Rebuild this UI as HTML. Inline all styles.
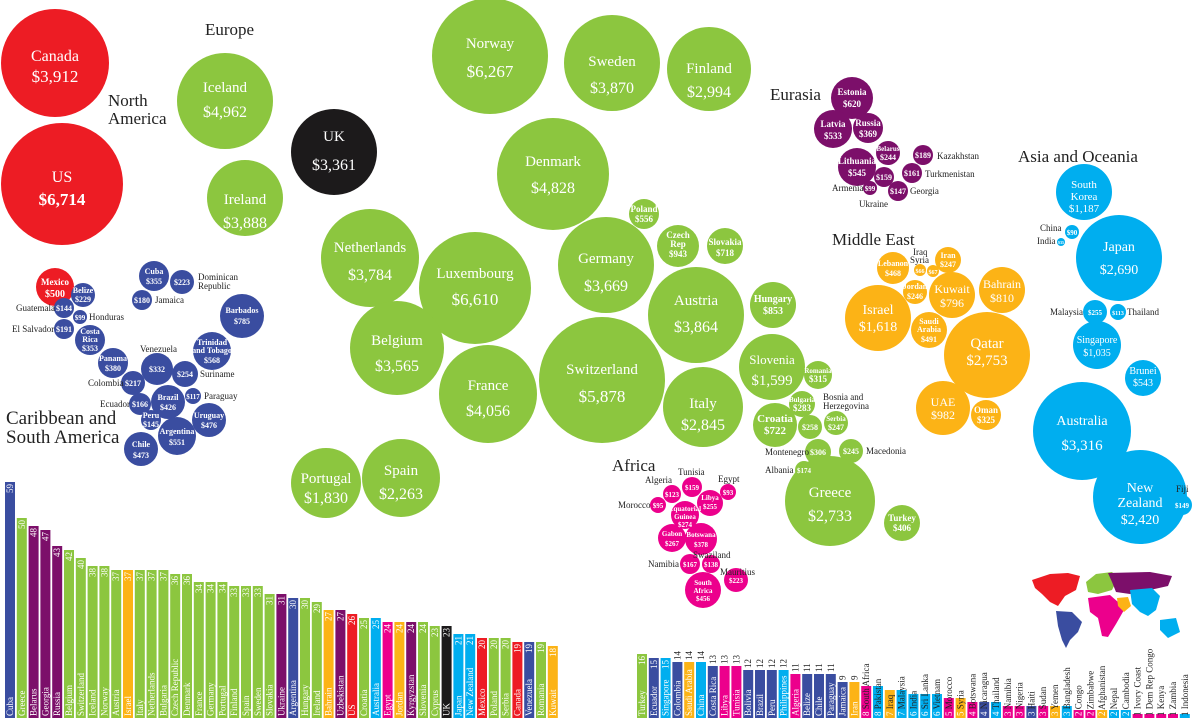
<!DOCTYPE html>
<html><head><meta charset="utf-8"><style>
html,body{margin:0;padding:0;background:#fff}
svg{display:block}
text{font-family:"Liberation Serif",serif}
.w{fill:#fff;text-anchor:middle}
.b{font-weight:bold}
.k{fill:#222;font-size:9px}
.h{fill:#222;font-size:17px}
.bl text{font-size:9px;fill:#fff}
.bl text.d{fill:#222}
.bl tspan.wt{fill:#fff}
</style></head><body>
<svg width="1200" height="720" viewBox="0 0 1200 720" xmlns="http://www.w3.org/2000/svg">
<text class="h" x="205" y="35">Europe</text>
<text class="h" x="108" y="106">North</text>
<text class="h" x="108" y="124">America</text>
<text class="h" x="6" y="424" style="font-size:19px">Caribbean and</text>
<text class="h" x="6" y="443" style="font-size:19px">South America</text>
<text class="h" x="770" y="100">Eurasia</text>
<text class="h" x="832" y="245">Middle East</text>
<text class="h" x="1018" y="162">Asia and Oceania</text>
<text class="h" x="612" y="471">Africa</text>

<g fill="#ed1c24">
<circle cx="55" cy="63" r="54"/><circle cx="62" cy="184" r="61"/><circle cx="55" cy="287" r="19"/>
</g>
<text class="w" x="55" y="61" font-size="16">Canada</text><text class="w" x="55" y="82" font-size="17">$3,912</text>
<text class="w" x="62" y="182" font-size="16">US</text><text class="w" x="62" y="205" font-size="17" font-weight="bold">$6,714</text>
<text class="w b" x="55" y="285" font-size="9">Mexico</text><text class="w b" x="55" y="297" font-size="10">$500</text>

<g fill="#3a4da0">
<circle cx="83" cy="295" r="12"/><circle cx="64" cy="308" r="10"/><circle cx="80" cy="317" r="7"/>
<circle cx="64" cy="329" r="10"/><circle cx="90" cy="340" r="15"/><circle cx="113" cy="363" r="15"/>
<circle cx="133" cy="383" r="12"/><circle cx="157" cy="369" r="16"/><circle cx="185" cy="374" r="13"/>
<circle cx="140" cy="404" r="11"/><circle cx="168" cy="402" r="17"/><circle cx="193" cy="396" r="8"/>
<circle cx="151" cy="420" r="10"/><circle cx="209" cy="420" r="17"/><circle cx="177" cy="436" r="19"/>
<circle cx="141" cy="449" r="17"/><circle cx="154" cy="276" r="15"/><circle cx="182" cy="282" r="12"/>
<circle cx="142" cy="300" r="10"/><circle cx="242" cy="316" r="22"/><circle cx="212" cy="351" r="19"/>
</g>
<g class="b" font-size="8">
<text class="w" x="83" y="293">Belize</text><text class="w" x="83" y="302">$229</text>
<text class="w" x="64" y="311">$144</text><text class="w" x="80" y="320" font-size="7">$99</text>
<text class="w" x="64" y="332">$191</text>
<text class="w" x="90" y="334">Costa</text><text class="w" x="90" y="342">Rica</text><text class="w" x="90" y="351">$353</text>
<text class="w" x="113" y="361">Panama</text><text class="w" x="113" y="371">$380</text>
<text class="w" x="133" y="386">$217</text><text class="w" x="157" y="372">$332</text><text class="w" x="185" y="377">$254</text>
<text class="w" x="140" y="407">$166</text>
<text class="w" x="168" y="400">Brazil</text><text class="w" x="168" y="410">$426</text>
<text class="w" x="193" y="399" font-size="7">$117</text>
<text class="w" x="151" y="418">Peru</text><text class="w" x="151" y="427">$145</text>
<text class="w" x="209" y="418">Uruguay</text><text class="w" x="209" y="428">$476</text>
<text class="w" x="177" y="434">Argentina</text><text class="w" x="177" y="445">$551</text>
<text class="w" x="141" y="447">Chile</text><text class="w" x="141" y="458">$473</text>
<text class="w" x="154" y="274">Cuba</text><text class="w" x="154" y="284">$355</text>
<text class="w" x="182" y="285">$223</text><text class="w" x="142" y="303">$180</text>
<text class="w" x="242" y="313">Barbados</text><text class="w" x="242" y="324">$785</text>
<text class="w" x="212" y="345">Trinidad</text><text class="w" x="212" y="353">and Tobago</text><text class="w" x="212" y="363">$568</text>
</g>
<text class="k" x="198" y="280">Dominican</text><text class="k" x="198" y="289">Republic</text>
<text class="k" x="155" y="303">Jamaica</text>
<text class="k" x="16" y="311">Guatemala</text><text class="k" x="89" y="320">Honduras</text>
<text class="k" x="12" y="332">El Salvador</text><text class="k" x="140" y="352">Venezuela</text>
<text class="k" x="88" y="386">Colombia</text><text class="k" x="200" y="377">Suriname</text>
<text class="k" x="100" y="407">Ecuador</text><text class="k" x="204" y="399">Paraguay</text>

<g fill="#8cc63f">
<circle cx="225" cy="101" r="48"/><circle cx="245" cy="198" r="38"/>
<circle cx="490" cy="56" r="58"/><circle cx="612" cy="63" r="48"/><circle cx="709" cy="69" r="42"/>
<circle cx="553" cy="174" r="56"/><circle cx="370" cy="258" r="49"/><circle cx="475" cy="288" r="56"/>
<circle cx="606" cy="265" r="48"/><circle cx="644" cy="214" r="15"/><circle cx="678" cy="246" r="21"/>
<circle cx="725" cy="246" r="18"/><circle cx="696" cy="315" r="48"/><circle cx="773" cy="305" r="23"/>
<circle cx="397" cy="348" r="47"/><circle cx="488" cy="394" r="49"/><circle cx="602" cy="380" r="63"/>
<circle cx="703" cy="407" r="40"/><circle cx="772" cy="367" r="33"/><circle cx="818" cy="375" r="14"/>
<circle cx="802" cy="404" r="13"/><circle cx="775" cy="425" r="22"/><circle cx="810" cy="427" r="12"/>
<circle cx="836" cy="423" r="12"/><circle cx="818" cy="452" r="13"/><circle cx="851" cy="451" r="12"/>
<circle cx="804" cy="470" r="9"/><circle cx="830" cy="501" r="45"/><circle cx="902" cy="523" r="18"/>
<circle cx="326" cy="483" r="35"/><circle cx="401" cy="478" r="39"/>
</g>
<circle cx="334" cy="152" r="43" fill="#1c1a1b"/>
<g font-size="15">
<text class="w" x="225" y="92">Iceland</text><text class="w" x="225" y="117" font-size="16">$4,962</text>
<text class="w" x="245" y="204">Ireland</text><text class="w" x="245" y="228" font-size="16">$3,888</text>
<text class="w" x="334" y="141">UK</text><text class="w" x="334" y="170" font-size="16">$3,361</text>
<text class="w" x="490" y="48">Norway</text><text class="w" x="490" y="77" font-size="17">$6,267</text>
<text class="w" x="612" y="66">Sweden</text><text class="w" x="612" y="93" font-size="16">$3,870</text>
<text class="w" x="709" y="73">Finland</text><text class="w" x="709" y="97" font-size="16">$2,994</text>
<text class="w" x="553" y="166">Denmark</text><text class="w" x="553" y="193" font-size="16">$4,828</text>
<text class="w" x="370" y="252">Netherlands</text><text class="w" x="370" y="280" font-size="16">$3,784</text>
<text class="w" x="475" y="278">Luxembourg</text><text class="w" x="475" y="305" font-size="17">$6,610</text>
<text class="w" x="606" y="263">Germany</text><text class="w" x="606" y="291" font-size="16">$3,669</text>
<text class="w" x="696" y="305">Austria</text><text class="w" x="696" y="332" font-size="16">$3,864</text>
<text class="w" x="397" y="345">Belgium</text><text class="w" x="397" y="371" font-size="16">$3,565</text>
<text class="w" x="488" y="390">France</text><text class="w" x="488" y="416" font-size="16">$4,056</text>
<text class="w" x="602" y="374">Switzerland</text><text class="w" x="602" y="402" font-size="17">$5,878</text>
<text class="w" x="703" y="408">Italy</text><text class="w" x="703" y="430" font-size="16">$2,845</text>
<text class="w" x="772" y="364" font-size="13">Slovenia</text><text class="w" x="772" y="385">$1,599</text>
<text class="w" x="830" y="497">Greece</text><text class="w" x="830" y="521" font-size="16">$2,733</text>
<text class="w" x="326" y="483">Portugal</text><text class="w" x="326" y="503" font-size="16">$1,830</text>
<text class="w" x="401" y="475">Spain</text><text class="w" x="401" y="499" font-size="16">$2,263</text>
</g>
<g class="b" font-size="9">
<text class="w" x="644" y="212">Poland</text><text class="w" x="644" y="222">$556</text>
<text class="w" x="678" y="238">Czech</text><text class="w" x="678" y="247">Rep</text><text class="w" x="678" y="257">$943</text>
<text class="w" x="725" y="245">Slovakia</text><text class="w" x="725" y="256">$718</text>
<text class="w" x="773" y="302" font-size="10">Hungary</text><text class="w" x="773" y="314" font-size="10">$853</text>
<text class="w" x="818" y="373" font-size="7">Romania</text><text class="w" x="818" y="382">$315</text>
<text class="w" x="802" y="402" font-size="7">Bulgaria</text><text class="w" x="802" y="411">$283</text>
<text class="w" x="775" y="422" font-size="11">Croatia</text><text class="w" x="775" y="434" font-size="11">$722</text>
<text class="w" x="810" y="430" font-size="8">$258</text>
<text class="w" x="836" y="421" font-size="7">Serbia</text><text class="w" x="836" y="430" font-size="8">$247</text>
<text class="w" x="818" y="455" font-size="8">$306</text><text class="w" x="851" y="454" font-size="8">$245</text>
<text class="w" x="804" y="473" font-size="7">$174</text>
<text class="w" x="902" y="521">Turkey</text><text class="w" x="902" y="531">$406</text>
</g>
<text class="k" x="823" y="400">Bosnia and</text><text class="k" x="823" y="409">Herzegovina</text>
<text class="k" x="765" y="455">Montenegro</text><text class="k" x="866" y="454">Macedonia</text>
<text class="k" x="765" y="473">Albania</text>

<g fill="#7c0f6a">
<circle cx="852" cy="98" r="21"/><circle cx="833" cy="129" r="19"/><circle cx="868" cy="128" r="15"/>
<circle cx="888" cy="153" r="12"/><circle cx="857" cy="167" r="19"/><circle cx="884" cy="177" r="10"/>
<circle cx="870" cy="188" r="7"/><circle cx="898" cy="191" r="10"/><circle cx="912" cy="173" r="10"/><circle cx="923" cy="155" r="10"/>
</g>
<g class="b" font-size="9">
<text class="w" x="852" y="95">Estonia</text><text class="w" x="852" y="107">$620</text>
<text class="w" x="833" y="127">Latvia</text><text class="w" x="833" y="139">$533</text>
<text class="w" x="868" y="126">Russia</text><text class="w" x="868" y="137">$369</text>
<text class="w" x="888" y="151" font-size="7">Belarus</text><text class="w" x="888" y="160" font-size="8">$244</text>
<text class="w" x="857" y="164">Lithuania</text><text class="w" x="857" y="176">$545</text>
<text class="w" x="884" y="180" font-size="8">$159</text><text class="w" x="870" y="191" font-size="7">$99</text>
<text class="w" x="898" y="194" font-size="8">$147</text><text class="w" x="912" y="176" font-size="8">$161</text>
<text class="w" x="923" y="158" font-size="8">$189</text>
</g>
<text class="k" x="937" y="159" font-size="8">Kazakhstan</text><text class="k" x="925" y="177" font-size="8">Turkmenistan</text>
<text class="k" x="910" y="194" font-size="8">Georgia</text><text class="k" x="832" y="191" font-size="8">Armenia</text>
<text class="k" x="859" y="207" font-size="8">Ukraine</text>

<g fill="#fcb316">
<circle cx="893" cy="268" r="16"/><circle cx="920" cy="270" r="6"/><circle cx="933" cy="271" r="6"/>
<circle cx="948" cy="260" r="13"/><circle cx="915" cy="292" r="12"/><circle cx="952" cy="295" r="23"/>
<circle cx="1002" cy="290" r="23"/><circle cx="878" cy="318" r="33"/><circle cx="929" cy="330" r="18"/>
<circle cx="987" cy="355" r="43"/><circle cx="943" cy="408" r="27"/><circle cx="986" cy="415" r="15"/>
</g>
<g class="b" font-size="8">
<text class="w" x="893" y="266">Lebanon</text><text class="w" x="893" y="276">$468</text>
<text class="w" x="948" y="258">Iran</text><text class="w" x="948" y="267">$247</text>
<text class="w" x="920" y="273" font-size="6">$66</text><text class="w" x="933" y="274" font-size="6">$67</text>
<text class="w" x="915" y="289">Jordan</text><text class="w" x="915" y="299">$246</text>
<text class="w" x="929" y="324">Saudi</text><text class="w" x="929" y="332">Arabia</text><text class="w" x="929" y="342">$491</text>
<text class="w" x="986" y="413" font-size="9">Oman</text><text class="w" x="986" y="423" font-size="9">$325</text>
</g>
<g font-size="12">
<text class="w" x="952" y="293">Kuwait</text><text class="w" x="952" y="307">$796</text>
<text class="w" x="1002" y="288">Bahrain</text><text class="w" x="1002" y="302">$810</text>
<text class="w" x="878" y="314" font-size="14">Israel</text><text class="w" x="878" y="331" font-size="14">$1,618</text>
<text class="w" x="987" y="348" font-size="15">Qatar</text><text class="w" x="987" y="365" font-size="15">$2,753</text>
<text class="w" x="943" y="406">UAE</text><text class="w" x="943" y="419">$982</text>
</g>
<text class="k" x="913" y="255" font-size="8">Iraq</text><text class="k" x="910" y="263" font-size="8">Syria</text>

<g fill="#ec008c">
<circle cx="672" cy="494" r="9"/><circle cx="692" cy="487" r="10"/><circle cx="728" cy="492" r="8"/>
<circle cx="658" cy="505" r="8"/><circle cx="710" cy="503" r="13"/><circle cx="685" cy="515" r="14"/>
<circle cx="672" cy="538" r="14"/><circle cx="701" cy="539" r="16"/><circle cx="690" cy="564" r="10"/>
<circle cx="711" cy="564" r="9"/><circle cx="736" cy="580" r="12"/><circle cx="703" cy="590" r="18"/>
</g>
<g class="b" font-size="7">
<text class="w" x="672" y="497">$123</text><text class="w" x="692" y="490">$159</text><text class="w" x="728" y="495">$93</text>
<text class="w" x="658" y="508">$95</text><text class="w" x="710" y="500">Libya</text><text class="w" x="710" y="509">$255</text>
<text class="w" x="685" y="511">Equatorial</text><text class="w" x="685" y="519">Guinea</text><text class="w" x="685" y="527">$274</text>
<text class="w" x="672" y="536">Gabon</text><text class="w" x="672" y="546">$267</text>
<text class="w" x="701" y="537">Botswana</text><text class="w" x="701" y="547">$378</text>
<text class="w" x="690" y="567">$167</text><text class="w" x="711" y="567">$138</text>
<text class="w" x="736" y="583">$223</text>
<text class="w" x="703" y="585">South</text><text class="w" x="703" y="593">Africa</text><text class="w" x="703" y="601">$456</text>
</g>
<text class="k" x="645" y="483" font-size="8">Algeria</text><text class="k" x="678" y="475" font-size="8">Tunisia</text>
<text class="k" x="718" y="482" font-size="8">Egypt</text><text class="k" x="618" y="508" font-size="8">Morocco</text>
<text class="k" x="648" y="567" font-size="8">Namibia</text><text class="k" x="693" y="558" font-size="8">Swaziland</text>
<text class="k" x="720" y="575" font-size="8">Mauritius</text>

<g fill="#00aeef">
<circle cx="1084" cy="192" r="28"/><circle cx="1072" cy="232" r="7"/><circle cx="1061" cy="242" r="4"/>
<circle cx="1119" cy="258" r="43"/><circle cx="1095" cy="312" r="12"/><circle cx="1118" cy="312" r="8"/>
<circle cx="1097" cy="345" r="24"/><circle cx="1143" cy="378" r="18"/><circle cx="1082" cy="431" r="49"/>
<circle cx="1140" cy="497" r="47"/><circle cx="1182" cy="505" r="10"/>
</g>
<text class="w" x="1084" y="188" font-size="11">South</text><text class="w" x="1084" y="200" font-size="11">Korea</text><text class="w" x="1084" y="212" font-size="11">$1,187</text>
<text class="w" x="1119" y="251" font-size="14">Japan</text><text class="w" x="1119" y="274" font-size="14">$2,690</text>
<text class="w" x="1097" y="343" font-size="10">Singapore</text><text class="w" x="1097" y="356" font-size="10">$1,035</text>
<text class="w" x="1143" y="374" font-size="10">Brunei</text><text class="w" x="1143" y="386" font-size="10">$543</text>
<text class="w" x="1082" y="425" font-size="14">Australia</text><text class="w" x="1082" y="450" font-size="15">$3,316</text>
<text class="w" x="1140" y="492" font-size="14">New</text><text class="w" x="1140" y="507" font-size="14">Zealand</text><text class="w" x="1140" y="524" font-size="14">$2,420</text>
<g class="b" font-size="7">
<text class="w" x="1072" y="235">$90</text><text class="w" x="1061" y="244" font-size="4">$35</text>
<text class="w" x="1095" y="315">$255</text><text class="w" x="1118" y="315" font-size="6">$113</text>
<text class="w" x="1182" y="508">$149</text>
</g>
<text class="k" x="1040" y="231" font-size="8">China</text><text class="k" x="1037" y="244" font-size="8">India</text>
<text class="k" x="1050" y="315" font-size="8">Malaysia</text><text class="k" x="1127" y="315" font-size="8">Thailand</text>
<text class="k" x="1176" y="492" font-size="8">Fiji</text>

<path d="M1032,580 L1050,574 L1068,573 L1080,576 L1076,590 L1065,596 L1058,606 L1050,602 L1042,594 L1035,588 Z" fill="#ed1c24"/>
<path d="M1056,611 L1072,612 L1082,622 L1078,632 L1070,640 L1066,648 L1062,640 L1058,626 Z" fill="#3a4da0"/>
<path d="M1086,582 L1096,574 L1112,572 L1118,578 L1112,590 L1098,594 L1088,592 Z" fill="#8cc63f"/>
<path d="M1088,598 L1110,595 L1118,602 L1124,610 L1116,624 L1108,637 L1102,636 L1098,618 L1090,612 Z" fill="#ec008c"/>
<path d="M1108,573 L1150,572 L1172,576 L1168,586 L1150,590 L1130,594 L1116,592 L1112,582 Z" fill="#7c0f6a"/>
<path d="M1117,598 L1128,597 L1131,606 L1124,612 L1118,606 Z" fill="#fcb316"/>
<path d="M1130,590 L1152,588 L1160,596 L1156,610 L1148,616 L1140,612 L1132,604 Z M1160,620 L1176,618 L1180,632 L1168,638 L1160,630 Z" fill="#00aeef"/>

<g class="bl">
<g transform="translate(5,0)"><rect y="482" width="10" height="236" fill="#3a4da0"/><text transform="rotate(-90 8 716)" x="8" y="716">Cuba</text><text transform="rotate(-90 8 484)" x="8" y="484" text-anchor="end">59</text></g>
<g transform="translate(16.8,0)"><rect y="518" width="10" height="200" fill="#8cc63f"/><text transform="rotate(-90 8 716)" x="8" y="716">Greece</text><text transform="rotate(-90 8 520)" x="8" y="520" text-anchor="end">50</text></g>
<g transform="translate(28.6,0)"><rect y="526" width="10" height="192" fill="#7c0f6a"/><text transform="rotate(-90 8 716)" x="8" y="716">Belarus</text><text transform="rotate(-90 8 528)" x="8" y="528" text-anchor="end">48</text></g>
<g transform="translate(40.4,0)"><rect y="530" width="10" height="188" fill="#7c0f6a"/><text transform="rotate(-90 8 716)" x="8" y="716">Georgia</text><text transform="rotate(-90 8 532)" x="8" y="532" text-anchor="end">47</text></g>
<g transform="translate(52.2,0)"><rect y="546" width="10" height="172" fill="#7c0f6a"/><text transform="rotate(-90 8 716)" x="8" y="716">Russia</text><text transform="rotate(-90 8 548)" x="8" y="548" text-anchor="end">43</text></g>
<g transform="translate(64,0)"><rect y="550" width="10" height="168" fill="#8cc63f"/><text transform="rotate(-90 8 716)" x="8" y="716">Belgium</text><text transform="rotate(-90 8 552)" x="8" y="552" text-anchor="end">42</text></g>
<g transform="translate(75.8,0)"><rect y="558" width="10" height="160" fill="#8cc63f"/><text transform="rotate(-90 8 716)" x="8" y="716">Switzerland</text><text transform="rotate(-90 8 560)" x="8" y="560" text-anchor="end">40</text></g>
<g transform="translate(87.6,0)"><rect y="566" width="10" height="152" fill="#8cc63f"/><text transform="rotate(-90 8 716)" x="8" y="716">Iceland</text><text transform="rotate(-90 8 568)" x="8" y="568" text-anchor="end">38</text></g>
<g transform="translate(99.4,0)"><rect y="566" width="10" height="152" fill="#8cc63f"/><text transform="rotate(-90 8 716)" x="8" y="716">Norway</text><text transform="rotate(-90 8 568)" x="8" y="568" text-anchor="end">38</text></g>
<g transform="translate(111.2,0)"><rect y="570" width="10" height="148" fill="#8cc63f"/><text transform="rotate(-90 8 716)" x="8" y="716">Austria</text><text transform="rotate(-90 8 572)" x="8" y="572" text-anchor="end">37</text></g>
<g transform="translate(123,0)"><rect y="570" width="10" height="148" fill="#fcb316"/><text transform="rotate(-90 8 716)" x="8" y="716">Israel</text><text transform="rotate(-90 8 572)" x="8" y="572" text-anchor="end">37</text></g>
<g transform="translate(134.8,0)"><rect y="570" width="10" height="148" fill="#8cc63f"/><text transform="rotate(-90 8 716)" x="8" y="716">Italy</text><text transform="rotate(-90 8 572)" x="8" y="572" text-anchor="end">37</text></g>
<g transform="translate(146.6,0)"><rect y="570" width="10" height="148" fill="#8cc63f"/><text transform="rotate(-90 8 716)" x="8" y="716">Netherlands</text><text transform="rotate(-90 8 572)" x="8" y="572" text-anchor="end">37</text></g>
<g transform="translate(158.4,0)"><rect y="570" width="10" height="148" fill="#8cc63f"/><text transform="rotate(-90 8 716)" x="8" y="716">Bulgaria</text><text transform="rotate(-90 8 572)" x="8" y="572" text-anchor="end">37</text></g>
<g transform="translate(170.2,0)"><rect y="574" width="10" height="144" fill="#8cc63f"/><text transform="rotate(-90 8 716)" x="8" y="716">Czech Republic</text><text transform="rotate(-90 8 576)" x="8" y="576" text-anchor="end">36</text></g>
<g transform="translate(182,0)"><rect y="574" width="10" height="144" fill="#8cc63f"/><text transform="rotate(-90 8 716)" x="8" y="716">Denmark</text><text transform="rotate(-90 8 576)" x="8" y="576" text-anchor="end">36</text></g>
<g transform="translate(193.8,0)"><rect y="582" width="10" height="136" fill="#8cc63f"/><text transform="rotate(-90 8 716)" x="8" y="716">France</text><text transform="rotate(-90 8 584)" x="8" y="584" text-anchor="end">34</text></g>
<g transform="translate(205.6,0)"><rect y="582" width="10" height="136" fill="#8cc63f"/><text transform="rotate(-90 8 716)" x="8" y="716">Germany</text><text transform="rotate(-90 8 584)" x="8" y="584" text-anchor="end">34</text></g>
<g transform="translate(217.4,0)"><rect y="582" width="10" height="136" fill="#8cc63f"/><text transform="rotate(-90 8 716)" x="8" y="716">Portugal</text><text transform="rotate(-90 8 584)" x="8" y="584" text-anchor="end">34</text></g>
<g transform="translate(229.2,0)"><rect y="586" width="10" height="132" fill="#8cc63f"/><text transform="rotate(-90 8 716)" x="8" y="716">Finland</text><text transform="rotate(-90 8 588)" x="8" y="588" text-anchor="end">33</text></g>
<g transform="translate(241,0)"><rect y="586" width="10" height="132" fill="#8cc63f"/><text transform="rotate(-90 8 716)" x="8" y="716">Spain</text><text transform="rotate(-90 8 588)" x="8" y="588" text-anchor="end">33</text></g>
<g transform="translate(252.8,0)"><rect y="586" width="10" height="132" fill="#8cc63f"/><text transform="rotate(-90 8 716)" x="8" y="716">Sweden</text><text transform="rotate(-90 8 588)" x="8" y="588" text-anchor="end">33</text></g>
<g transform="translate(264.6,0)"><rect y="594" width="10" height="124" fill="#8cc63f"/><text transform="rotate(-90 8 716)" x="8" y="716">Slovakia</text><text transform="rotate(-90 8 596)" x="8" y="596" text-anchor="end">31</text></g>
<g transform="translate(276.4,0)"><rect y="594" width="10" height="124" fill="#7c0f6a"/><text transform="rotate(-90 8 716)" x="8" y="716">Ukraine</text><text transform="rotate(-90 8 596)" x="8" y="596" text-anchor="end">31</text></g>
<g transform="translate(288.2,0)"><rect y="598" width="10" height="120" fill="#3a4da0"/><text transform="rotate(-90 8 716)" x="8" y="716">Argentina</text><text transform="rotate(-90 8 600)" x="8" y="600" text-anchor="end">30</text></g>
<g transform="translate(300,0)"><rect y="598" width="10" height="120" fill="#8cc63f"/><text transform="rotate(-90 8 716)" x="8" y="716">Hungary</text><text transform="rotate(-90 8 600)" x="8" y="600" text-anchor="end">30</text></g>
<g transform="translate(311.8,0)"><rect y="602" width="10" height="116" fill="#8cc63f"/><text transform="rotate(-90 8 716)" x="8" y="716">Ireland</text><text transform="rotate(-90 8 604)" x="8" y="604" text-anchor="end">29</text></g>
<g transform="translate(323.6,0)"><rect y="610" width="10" height="108" fill="#fcb316"/><text transform="rotate(-90 8 716)" x="8" y="716">Bahrain</text><text transform="rotate(-90 8 612)" x="8" y="612" text-anchor="end">27</text></g>
<g transform="translate(335.4,0)"><rect y="610" width="10" height="108" fill="#7c0f6a"/><text transform="rotate(-90 8 716)" x="8" y="716">Uzbekistan</text><text transform="rotate(-90 8 612)" x="8" y="612" text-anchor="end">27</text></g>
<g transform="translate(347.2,0)"><rect y="614" width="10" height="104" fill="#ed1c24"/><text transform="rotate(-90 8 716)" x="8" y="716">US</text><text transform="rotate(-90 8 616)" x="8" y="616" text-anchor="end">26</text></g>
<g transform="translate(359,0)"><rect y="618" width="10" height="100" fill="#8cc63f"/><text transform="rotate(-90 8 716)" x="8" y="716">Croatia</text><text transform="rotate(-90 8 620)" x="8" y="620" text-anchor="end">25</text></g>
<g transform="translate(370.8,0)"><rect y="618" width="10" height="100" fill="#00aeef"/><text transform="rotate(-90 8 716)" x="8" y="716">Australia</text><text transform="rotate(-90 8 620)" x="8" y="620" text-anchor="end">25</text></g>
<g transform="translate(382.6,0)"><rect y="622" width="10" height="96" fill="#ec008c"/><text transform="rotate(-90 8 716)" x="8" y="716">Egypt</text><text transform="rotate(-90 8 624)" x="8" y="624" text-anchor="end">24</text></g>
<g transform="translate(394.4,0)"><rect y="622" width="10" height="96" fill="#fcb316"/><text transform="rotate(-90 8 716)" x="8" y="716">Jordan</text><text transform="rotate(-90 8 624)" x="8" y="624" text-anchor="end">24</text></g>
<g transform="translate(406.2,0)"><rect y="622" width="10" height="96" fill="#7c0f6a"/><text transform="rotate(-90 8 716)" x="8" y="716">Kyrgyzstan</text><text transform="rotate(-90 8 624)" x="8" y="624" text-anchor="end">24</text></g>
<g transform="translate(418,0)"><rect y="622" width="10" height="96" fill="#8cc63f"/><text transform="rotate(-90 8 716)" x="8" y="716">Slovenia</text><text transform="rotate(-90 8 624)" x="8" y="624" text-anchor="end">24</text></g>
<g transform="translate(429.8,0)"><rect y="626" width="10" height="92" fill="#8cc63f"/><text transform="rotate(-90 8 716)" x="8" y="716">Cyprus</text><text transform="rotate(-90 8 628)" x="8" y="628" text-anchor="end">23</text></g>
<g transform="translate(441.6,0)"><rect y="626" width="10" height="92" fill="#1c1a1b"/><text transform="rotate(-90 8 716)" x="8" y="716">UK</text><text transform="rotate(-90 8 628)" x="8" y="628" text-anchor="end">23</text></g>
<g transform="translate(453.4,0)"><rect y="634" width="10" height="84" fill="#00aeef"/><text transform="rotate(-90 8 716)" x="8" y="716">Japan</text><text transform="rotate(-90 8 636)" x="8" y="636" text-anchor="end">21</text></g>
<g transform="translate(465.2,0)"><rect y="634" width="10" height="84" fill="#00aeef"/><text transform="rotate(-90 8 716)" x="8" y="716">New Zealand</text><text transform="rotate(-90 8 636)" x="8" y="636" text-anchor="end">21</text></g>
<g transform="translate(477,0)"><rect y="638" width="10" height="80" fill="#ed1c24"/><text transform="rotate(-90 8 716)" x="8" y="716">Mexico</text><text transform="rotate(-90 8 640)" x="8" y="640" text-anchor="end">20</text></g>
<g transform="translate(488.8,0)"><rect y="638" width="10" height="80" fill="#8cc63f"/><text transform="rotate(-90 8 716)" x="8" y="716">Poland</text><text transform="rotate(-90 8 640)" x="8" y="640" text-anchor="end">20</text></g>
<g transform="translate(500.6,0)"><rect y="638" width="10" height="80" fill="#8cc63f"/><text transform="rotate(-90 8 716)" x="8" y="716">Serbia</text><text transform="rotate(-90 8 640)" x="8" y="640" text-anchor="end">20</text></g>
<g transform="translate(512.4,0)"><rect y="642" width="10" height="76" fill="#ed1c24"/><text transform="rotate(-90 8 716)" x="8" y="716">Canada</text><text transform="rotate(-90 8 644)" x="8" y="644" text-anchor="end">19</text></g>
<g transform="translate(524.2,0)"><rect y="642" width="10" height="76" fill="#3a4da0"/><text transform="rotate(-90 8 716)" x="8" y="716">Venezuela</text><text transform="rotate(-90 8 644)" x="8" y="644" text-anchor="end">19</text></g>
<g transform="translate(536,0)"><rect y="642" width="10" height="76" fill="#8cc63f"/><text transform="rotate(-90 8 716)" x="8" y="716">Romania</text><text transform="rotate(-90 8 644)" x="8" y="644" text-anchor="end">19</text></g>
<g transform="translate(547.8,0)"><rect y="646" width="10" height="72" fill="#fcb316"/><text transform="rotate(-90 8 716)" x="8" y="716">Kuwait</text><text transform="rotate(-90 8 648)" x="8" y="648" text-anchor="end">18</text></g>
</g>

<g class="bl">
<g transform="translate(637,0)"><rect y="654" width="10" height="64" fill="#8cc63f"/><text transform="rotate(-90 8 716)" x="8" y="716">Turkey</text><text transform="rotate(-90 8 656)" x="8" y="656" text-anchor="end">16</text></g>
<g transform="translate(648.8,0)"><rect y="658" width="10" height="60" fill="#3a4da0"/><text transform="rotate(-90 8 716)" x="8" y="716">Ecuador</text><text transform="rotate(-90 8 660)" x="8" y="660" text-anchor="end">15</text></g>
<g transform="translate(660.6,0)"><rect y="658" width="10" height="60" fill="#00aeef"/><text transform="rotate(-90 8 716)" x="8" y="716">Singapore</text><text transform="rotate(-90 8 660)" x="8" y="660" text-anchor="end">15</text></g>
<g transform="translate(672.4,0)"><rect y="662" width="10" height="56" fill="#3a4da0"/><text transform="rotate(-90 8 716)" x="8" y="716">Colombia</text><text class="d" transform="rotate(-90 8 660)" x="8" y="660">14</text></g>
<g transform="translate(684.2,0)"><rect y="662" width="10" height="56" fill="#fcb316"/><text transform="rotate(-90 8 716)" x="8" y="716">Saudi Arabia</text><text class="d" transform="rotate(-90 8 660)" x="8" y="660">14</text></g>
<g transform="translate(696,0)"><rect y="662" width="10" height="56" fill="#00aeef"/><text transform="rotate(-90 8 716)" x="8" y="716">China</text><text class="d" transform="rotate(-90 8 660)" x="8" y="660">14</text></g>
<g transform="translate(707.8,0)"><rect y="666" width="10" height="52" fill="#3a4da0"/><text transform="rotate(-90 8 716)" x="8" y="716">Costa Rica</text><text class="d" transform="rotate(-90 8 664)" x="8" y="664">13</text></g>
<g transform="translate(719.6,0)"><rect y="666" width="10" height="52" fill="#ec008c"/><text transform="rotate(-90 8 716)" x="8" y="716">Libya</text><text class="d" transform="rotate(-90 8 664)" x="8" y="664">13</text></g>
<g transform="translate(731.4,0)"><rect y="666" width="10" height="52" fill="#ec008c"/><text transform="rotate(-90 8 716)" x="8" y="716">Tunisia</text><text class="d" transform="rotate(-90 8 664)" x="8" y="664">13</text></g>
<g transform="translate(743.2,0)"><rect y="670" width="10" height="48" fill="#3a4da0"/><text transform="rotate(-90 8 716)" x="8" y="716">Bolivia</text><text class="d" transform="rotate(-90 8 668)" x="8" y="668">12</text></g>
<g transform="translate(755,0)"><rect y="670" width="10" height="48" fill="#3a4da0"/><text transform="rotate(-90 8 716)" x="8" y="716">Brazil</text><text class="d" transform="rotate(-90 8 668)" x="8" y="668">12</text></g>
<g transform="translate(766.8,0)"><rect y="670" width="10" height="48" fill="#3a4da0"/><text transform="rotate(-90 8 716)" x="8" y="716">Peru</text><text class="d" transform="rotate(-90 8 668)" x="8" y="668">12</text></g>
<g transform="translate(778.6,0)"><rect y="670" width="10" height="48" fill="#00aeef"/><text transform="rotate(-90 8 716)" x="8" y="716">Philippines</text><text class="d" transform="rotate(-90 8 668)" x="8" y="668">12</text></g>
<g transform="translate(790.4,0)"><rect y="674" width="10" height="44" fill="#ec008c"/><text transform="rotate(-90 8 716)" x="8" y="716">Algeria</text><text class="d" transform="rotate(-90 8 672)" x="8" y="672">11</text></g>
<g transform="translate(802.2,0)"><rect y="674" width="10" height="44" fill="#3a4da0"/><text transform="rotate(-90 8 716)" x="8" y="716">Belize</text><text class="d" transform="rotate(-90 8 672)" x="8" y="672">11</text></g>
<g transform="translate(814,0)"><rect y="674" width="10" height="44" fill="#3a4da0"/><text transform="rotate(-90 8 716)" x="8" y="716">Chile</text><text class="d" transform="rotate(-90 8 672)" x="8" y="672">11</text></g>
<g transform="translate(825.8,0)"><rect y="674" width="10" height="44" fill="#3a4da0"/><text transform="rotate(-90 8 716)" x="8" y="716">Paraguay</text><text class="d" transform="rotate(-90 8 672)" x="8" y="672">11</text></g>
<g transform="translate(837.6,0)"><rect y="682" width="10" height="36" fill="#3a4da0"/><text transform="rotate(-90 8 716)" x="8" y="716">Jamaica</text><text class="d" transform="rotate(-90 8 680)" x="8" y="680">9</text></g>
<g transform="translate(849.4,0)"><rect y="682" width="10" height="36" fill="#fcb316"/><text transform="rotate(-90 8 716)" x="8" y="716">Iran</text><text class="d" transform="rotate(-90 8 680)" x="8" y="680">9</text></g>
<g transform="translate(861.2,0)"><rect y="686" width="10" height="32" fill="#ec008c"/><text class="d" transform="rotate(-90 8 716)" x="8" y="716"><tspan class="wt">8</tspan> South Africa</text></g>
<g transform="translate(873,0)"><rect y="686" width="10" height="32" fill="#00aeef"/><text class="d" transform="rotate(-90 8 716)" x="8" y="716"><tspan class="wt">8</tspan> Pakistan</text></g>
<g transform="translate(884.8,0)"><rect y="690" width="10" height="28" fill="#fcb316"/><text class="d" transform="rotate(-90 8 716)" x="8" y="716"><tspan class="wt">7</tspan> Iraq</text></g>
<g transform="translate(896.6,0)"><rect y="690" width="10" height="28" fill="#00aeef"/><text class="d" transform="rotate(-90 8 716)" x="8" y="716"><tspan class="wt">7</tspan> Malaysia</text></g>
<g transform="translate(908.4,0)"><rect y="694" width="10" height="24" fill="#00aeef"/><text class="d" transform="rotate(-90 8 716)" x="8" y="716"><tspan class="wt">6</tspan> India</text></g>
<g transform="translate(920.2,0)"><rect y="694" width="10" height="24" fill="#00aeef"/><text class="d" transform="rotate(-90 8 716)" x="8" y="716"><tspan class="wt">6</tspan> Sri Lanka</text></g>
<g transform="translate(932,0)"><rect y="694" width="10" height="24" fill="#00aeef"/><text class="d" transform="rotate(-90 8 716)" x="8" y="716"><tspan class="wt">6</tspan> Vietnam</text></g>
<g transform="translate(943.8,0)"><rect y="698" width="10" height="20" fill="#ec008c"/><text class="d" transform="rotate(-90 8 716)" x="8" y="716"><tspan class="wt">5</tspan> Morocco</text></g>
<g transform="translate(955.6,0)"><rect y="698" width="10" height="20" fill="#fcb316"/><text class="d" transform="rotate(-90 8 716)" x="8" y="716"><tspan class="wt">5</tspan> Syria</text></g>
<g transform="translate(967.4,0)"><rect y="702" width="10" height="16" fill="#ec008c"/><text class="d" transform="rotate(-90 8 716)" x="8" y="716"><tspan class="wt">4</tspan> Botswana</text></g>
<g transform="translate(979.2,0)"><rect y="702" width="10" height="16" fill="#3a4da0"/><text class="d" transform="rotate(-90 8 716)" x="8" y="716"><tspan class="wt">4</tspan> Nicaragua</text></g>
<g transform="translate(991,0)"><rect y="702" width="10" height="16" fill="#00aeef"/><text class="d" transform="rotate(-90 8 716)" x="8" y="716"><tspan class="wt">4</tspan> Thailand</text></g>
<g transform="translate(1002.8,0)"><rect y="706" width="10" height="12" fill="#ec008c"/><text class="d" transform="rotate(-90 8 716)" x="8" y="716"><tspan class="wt">3</tspan> Namibia</text></g>
<g transform="translate(1014.6,0)"><rect y="706" width="10" height="12" fill="#ec008c"/><text class="d" transform="rotate(-90 8 716)" x="8" y="716"><tspan class="wt">3</tspan> Nigeria</text></g>
<g transform="translate(1026.4,0)"><rect y="706" width="10" height="12" fill="#3a4da0"/><text class="d" transform="rotate(-90 8 716)" x="8" y="716"><tspan class="wt">3</tspan> Haiti</text></g>
<g transform="translate(1038.2,0)"><rect y="706" width="10" height="12" fill="#ec008c"/><text class="d" transform="rotate(-90 8 716)" x="8" y="716"><tspan class="wt">3</tspan> Sudan</text></g>
<g transform="translate(1050,0)"><rect y="706" width="10" height="12" fill="#fcb316"/><text class="d" transform="rotate(-90 8 716)" x="8" y="716"><tspan class="wt">3</tspan> Yemen</text></g>
<g transform="translate(1061.8,0)"><rect y="706" width="10" height="12" fill="#00aeef"/><text class="d" transform="rotate(-90 8 716)" x="8" y="716"><tspan class="wt">3</tspan> Bangladesh</text></g>
<g transform="translate(1073.6,0)"><rect y="710" width="10" height="8" fill="#ec008c"/><text class="d" transform="rotate(-90 8 716)" x="8" y="716"><tspan class="wt">2</tspan> Congo</text></g>
<g transform="translate(1085.4,0)"><rect y="710" width="10" height="8" fill="#ec008c"/><text class="d" transform="rotate(-90 8 716)" x="8" y="716"><tspan class="wt">2</tspan> Zimbabwe</text></g>
<g transform="translate(1097.2,0)"><rect y="710" width="10" height="8" fill="#fcb316"/><text class="d" transform="rotate(-90 8 716)" x="8" y="716"><tspan class="wt">2</tspan> Afghanistan</text></g>
<g transform="translate(1109,0)"><rect y="710" width="10" height="8" fill="#00aeef"/><text class="d" transform="rotate(-90 8 716)" x="8" y="716"><tspan class="wt">2</tspan> Nepal</text></g>
<g transform="translate(1120.8,0)"><rect y="710" width="10" height="8" fill="#00aeef"/><text class="d" transform="rotate(-90 8 716)" x="8" y="716"><tspan class="wt">2</tspan> Cambodia</text></g>
<g transform="translate(1132.6,0)"><rect y="714" width="10" height="4" fill="#ec008c"/><text class="d" transform="rotate(-90 8 716)" x="8" y="716">1 Ivory Coast</text></g>
<g transform="translate(1144.4,0)"><rect y="714" width="10" height="4" fill="#ec008c"/><text class="d" transform="rotate(-90 8 716)" x="8" y="716">1 Dem Rep Congo</text></g>
<g transform="translate(1156.2,0)"><rect y="714" width="10" height="4" fill="#ec008c"/><text class="d" transform="rotate(-90 8 716)" x="8" y="716">1 Kenya</text></g>
<g transform="translate(1168,0)"><rect y="714" width="10" height="4" fill="#ec008c"/><text class="d" transform="rotate(-90 8 716)" x="8" y="716">1 Zambia</text></g>
<g transform="translate(1179.8,0)"><rect y="714" width="10" height="4" fill="#00aeef"/><text class="d" transform="rotate(-90 8 716)" x="8" y="716">1 Indonesia</text></g>
</g>
</svg>
</body></html>
